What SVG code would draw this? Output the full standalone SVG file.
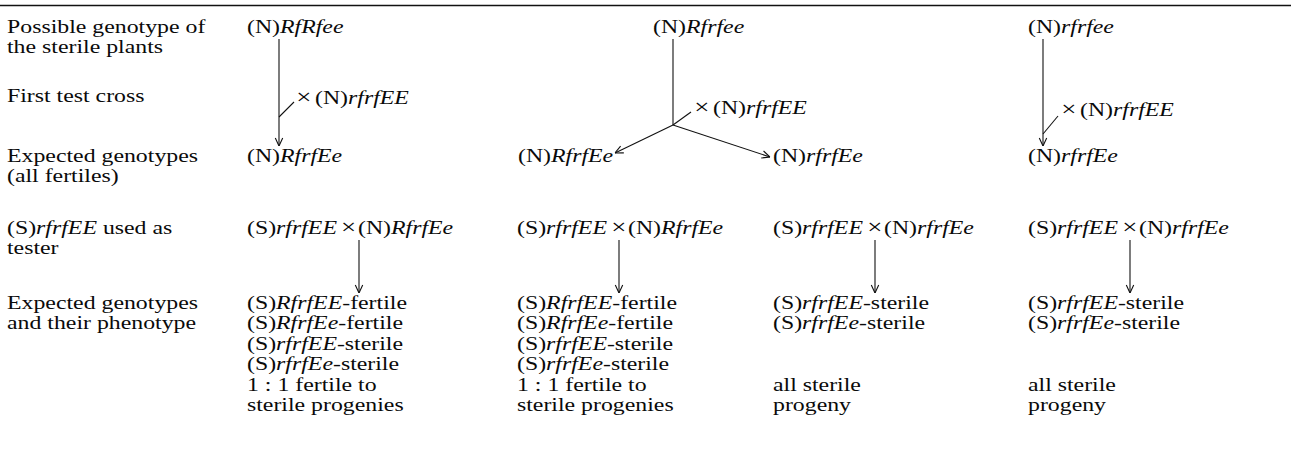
<svg xmlns="http://www.w3.org/2000/svg" width="1291" height="450" viewBox="0 0 1291 450">
  <defs>
    <style>
      text { font-family: "Liberation Serif", "Times New Roman", serif; font-size: 18.6px; fill: #0a0a0a; }
      .i { font-style: italic; }
      .x { font-size: 21px; }
      .ln { stroke: #111; stroke-width: 1.1; fill: none; }
      .rule { stroke: #111; stroke-width: 1.6; }
    </style>
    <marker id="ah" viewBox="0 0 10 10" refX="10" refY="5" markerWidth="10" markerHeight="10" markerUnits="userSpaceOnUse" orient="auto">
      <path d="M2,1.3 L10,5 L2,8.7" fill="none" stroke="#111" stroke-width="1.1"/>
    </marker>
  </defs>
  <rect width="1291" height="450" fill="#fff"/>

  <!-- table head rule -->
  <line class="rule" x1="0" y1="5.5" x2="1291" y2="5.5"/>

  <!-- lettering is set slightly widened: x values below are in the widened frame (x / 1.28) -->
  <g transform="scale(1.28 1)">
    <!-- row captions -->
    <g id="label-possible">
      <text x="5.47" y="33">Possible genotype of</text>
      <text x="5.47" y="53.5">the sterile plants</text>
    </g>
    <g id="label-testcross">
      <text x="5.47" y="102">First test cross</text>
    </g>
    <g id="label-expected">
      <text x="5.47" y="162">Expected genotypes</text>
      <text x="5.47" y="182.5">(all fertiles)</text>
    </g>
    <g id="label-tester">
      <text x="5.47" y="234">(S)<tspan class="i">rfrfEE</tspan> used as</text>
      <text x="5.47" y="254.5">tester</text>
    </g>
    <g id="label-phenotype">
      <text x="5.47" y="309">Expected genotypes</text>
      <text x="5.47" y="329.5">and their phenotype</text>
    </g>

    <!-- column 1 -->
    <g id="p1"><text x="192.97" y="33">(N)<tspan class="i">RfRfee</tspan></text></g>
    <g id="x1"><text x="231.5" y="104"><tspan class="x">×</tspan><tspan x="246.09">(N)</tspan><tspan class="i">rfrfEE</tspan></text></g>
    <g id="f1"><text x="192.97" y="162">(N)<tspan class="i">RfrfEe</tspan></text></g>
    <g id="t1"><text x="192.97" y="234">(S)<tspan class="i">rfrfEE</tspan><tspan class="x" x="266.5">×</tspan><tspan x="279.69">(N)</tspan><tspan class="i">RfrfEe</tspan></text></g>
    <g id="r1">
      <text x="192.97" y="309">(S)<tspan class="i">RfrfEE</tspan>-fertile</text>
      <text x="192.97" y="329.5">(S)<tspan class="i">RfrfEe</tspan>-fertile</text>
      <text x="192.97" y="350">(S)<tspan class="i">rfrfEE</tspan>-sterile</text>
      <text x="192.97" y="370.5">(S)<tspan class="i">rfrfEe</tspan>-sterile</text>
      <text x="192.97" y="391">1 : 1 fertile to</text>
      <text x="192.97" y="411.5">sterile progenies</text>
    </g>

    <!-- column 2 -->
    <g id="p2"><text x="510.16" y="33">(N)<tspan class="i">Rfrfee</tspan></text></g>
    <g id="x2"><text x="542.4" y="114"><tspan class="x">×</tspan><tspan x="557.03">(N)</tspan><tspan class="i">rfrfEE</tspan></text></g>
    <g id="f2a"><text x="404.69" y="162">(N)<tspan class="i">RfrfEe</tspan></text></g>
    <g id="f2b"><text x="603.91" y="162">(N)<tspan class="i">rfrfEe</tspan></text></g>
    <g id="t2"><text x="403.91" y="234">(S)<tspan class="i">rfrfEE</tspan><tspan class="x" x="477.5">×</tspan><tspan x="490.63">(N)</tspan><tspan class="i">RfrfEe</tspan></text></g>
    <g id="r2">
      <text x="403.91" y="309">(S)<tspan class="i">RfrfEE</tspan>-fertile</text>
      <text x="403.91" y="329.5">(S)<tspan class="i">RfrfEe</tspan>-fertile</text>
      <text x="403.91" y="350">(S)<tspan class="i">rfrfEE</tspan>-sterile</text>
      <text x="403.91" y="370.5">(S)<tspan class="i">rfrfEe</tspan>-sterile</text>
      <text x="403.91" y="391">1 : 1 fertile to</text>
      <text x="403.91" y="411.5">sterile progenies</text>
    </g>

    <!-- column 3 -->
    <g id="t3"><text x="603.91" y="234">(S)<tspan class="i">rfrfEE</tspan><tspan class="x" x="677.5">×</tspan><tspan x="690.63">(N)</tspan><tspan class="i">rfrfEe</tspan></text></g>
    <g id="r3">
      <text x="603.91" y="309">(S)<tspan class="i">rfrfEE</tspan>-sterile</text>
      <text x="603.91" y="329.5">(S)<tspan class="i">rfrfEe</tspan>-sterile</text>
      <text x="603.91" y="391">all sterile</text>
      <text x="603.91" y="411.5">progeny</text>
    </g>

    <!-- column 4 -->
    <g id="p4"><text x="803.13" y="33">(N)<tspan class="i">rfrfee</tspan></text></g>
    <g id="x4"><text x="829.1" y="116"><tspan class="x">×</tspan><tspan x="843.75">(N)</tspan><tspan class="i">rfrfEE</tspan></text></g>
    <g id="f4"><text x="803.13" y="162">(N)<tspan class="i">rfrfEe</tspan></text></g>
    <g id="t4"><text x="803.13" y="234">(S)<tspan class="i">rfrfEE</tspan><tspan class="x" x="876.7">×</tspan><tspan x="889.84">(N)</tspan><tspan class="i">rfrfEe</tspan></text></g>
    <g id="r4">
      <text x="803.13" y="309">(S)<tspan class="i">rfrfEE</tspan>-sterile</text>
      <text x="803.13" y="329.5">(S)<tspan class="i">rfrfEe</tspan>-sterile</text>
      <text x="803.13" y="391">all sterile</text>
      <text x="803.13" y="411.5">progeny</text>
    </g>
  </g>

  <!-- connectors -->
  <g id="connectors">
    <!-- column 1 -->
    <line class="ln" x1="279" y1="39" x2="279" y2="146" marker-end="url(#ah)"/>
    <line class="ln" x1="279" y1="117" x2="294" y2="102"/>
    <line class="ln" x1="359" y1="240" x2="359" y2="293" marker-end="url(#ah)"/>
    <!-- column 2: split into two progeny classes -->
    <line class="ln" x1="673" y1="39" x2="673" y2="125"/>
    <line class="ln" x1="673" y1="125" x2="691" y2="112"/>
    <line class="ln" x1="673" y1="125" x2="615" y2="153" marker-end="url(#ah)"/>
    <line class="ln" x1="673" y1="125" x2="770" y2="157" marker-end="url(#ah)"/>
    <line class="ln" x1="619" y1="240" x2="619" y2="293" marker-end="url(#ah)"/>
    <!-- column 3 -->
    <line class="ln" x1="875" y1="240" x2="875" y2="293" marker-end="url(#ah)"/>
    <!-- column 4 -->
    <line class="ln" x1="1043" y1="39" x2="1043" y2="146" marker-end="url(#ah)"/>
    <line class="ln" x1="1043" y1="134" x2="1058" y2="116"/>
    <line class="ln" x1="1130" y1="240" x2="1130" y2="293" marker-end="url(#ah)"/>
  </g>
</svg>
